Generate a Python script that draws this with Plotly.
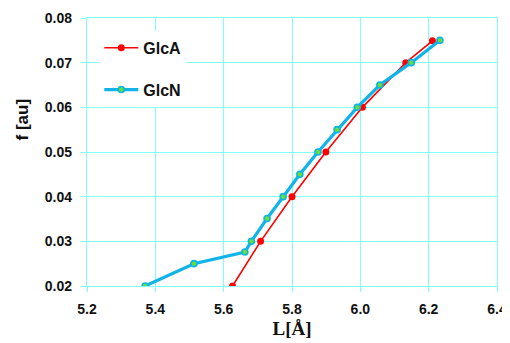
import plotly.graph_objects as go

glca_L = [5.626, 5.708, 5.800, 5.899, 6.006, 6.133, 6.211]
glca_f = [0.020, 0.030, 0.040, 0.050, 0.060, 0.070, 0.0749]

glcn_L = [5.370, 5.513, 5.662, 5.681, 5.727, 5.774, 5.823, 5.876, 5.932, 5.991, 6.057, 6.149, 6.233]
glcn_f = [0.020, 0.025, 0.0276, 0.030, 0.0351, 0.040, 0.045, 0.050, 0.055, 0.060, 0.065, 0.070, 0.075]

x_ticks = [5.2, 5.4, 5.6, 5.8, 6.0, 6.2, 6.4]
x_labels = ["5.2", "5.4", "5.6", "5.8", "6.0", "6.2", "6.4"]
y_ticks = [0.02, 0.03, 0.04, 0.05, 0.06, 0.07, 0.08]
y_labels = ["0.02", "0.03", "0.04", "0.05", "0.06", "0.07", "0.08"]

grid = "#7FFFFF"
font_fam = "Liberation Sans, Arial, sans-serif"

fig = go.Figure()
fig.add_trace(go.Scatter(
    x=glca_L, y=glca_f, name="GlcA", mode="lines+markers", legendgroup="a",
    line=dict(color="#FF0000", width=1.6),
    marker=dict(color="#FF0000", size=7, symbol="circle"),
))
fig.add_trace(go.Scatter(
    x=glcn_L, y=glcn_f, name="GlcN", mode="lines+markers", legendgroup="b",
    line=dict(color="#10B4E8", width=3.2),
    marker=dict(color="#66E033", size=6, symbol="circle",
                line=dict(color="#10B4E8", width=1.6)),
))

fig.update_layout(
    width=502, height=335,
    margin=dict(l=79, r=13, t=10, b=57, autoexpand=False),
    paper_bgcolor="white", plot_bgcolor="white",
    showlegend=True,
    legend=dict(
        x=0.03, y=0.952, xanchor="left", yanchor="top",
        bgcolor="white", borderwidth=0,
        font=dict(family=font_fam, size=16, color="#111111", weight="bold"),
        tracegroupgap=18, itemwidth=34,
    ),
    font=dict(family=font_fam, color="#111111"),
    annotations=[dict(
        text="f [au]", textangle=-90, showarrow=False,
        xref="paper", yref="y", x=-0.157, y=0.0572,
        xanchor="center", yanchor="middle",
        font=dict(family=font_fam, size=17, color="#111111", weight="bold"),
    )],
)
fig.update_xaxes(
    range=[5.2, 6.4], tickvals=x_ticks, ticktext=x_labels, automargin=False,
    showgrid=True, gridcolor=grid, gridwidth=1.3,
    showline=True, linecolor=grid, linewidth=1.3, mirror=True,
    ticks="outside", tickcolor=grid, ticklen=5, tickwidth=1.3,
    ticklabelstandoff=5, ticklabeloverflow="allow",
    tickfont=dict(family=font_fam, size=14, color="#111111", weight="bold"),
    title=dict(text="L[Å]", font=dict(family="Liberation Serif, Times New Roman, serif", size=19,
                                       color="#111111", weight="bold"), standoff=5),
    zeroline=False,
)
fig.update_yaxes(
    range=[0.02, 0.08], tickvals=y_ticks, ticktext=y_labels, automargin=False,
    showgrid=True, gridcolor=grid, gridwidth=1.3,
    showline=True, linecolor=grid, linewidth=1.3, mirror=True,
    ticks="outside", tickcolor=grid, ticklen=5, tickwidth=1.3,
    ticklabelstandoff=6,
    tickfont=dict(family=font_fam, size=14, color="#111111", weight="bold"),
    zeroline=False,
)

fig.write_html("out.html")
